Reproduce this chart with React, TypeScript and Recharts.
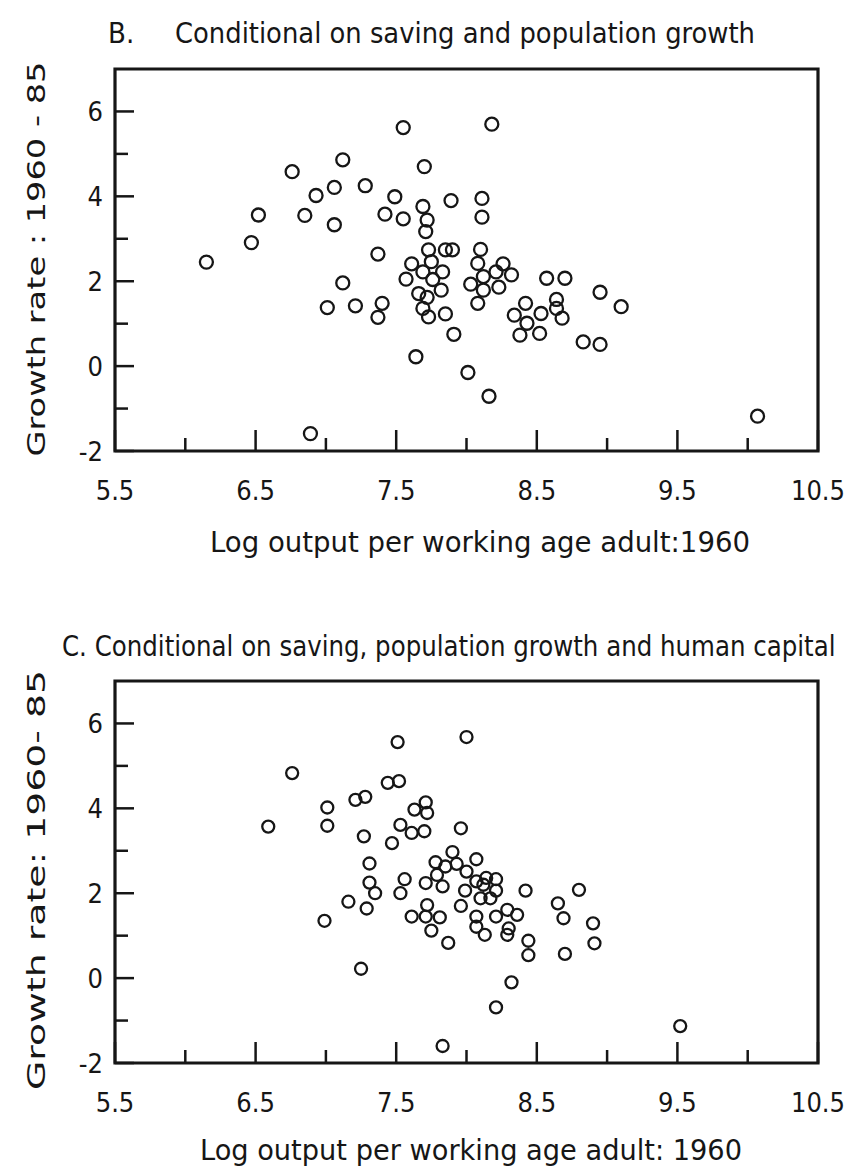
import { ScatterChart, Scatter, XAxis, YAxis, ReferenceArea } from "recharts";

const xTicks = [5.5, 6, 6.5, 7, 7.5, 8, 8.5, 9, 9.5, 10, 10.5];
const xTickLabels = ["5.5", "", "6.5", "", "7.5", "", "8.5", "", "9.5", "", "10.5"];
const yTicks = [-2, -1, 0, 1, 2, 3, 4, 5, 6];
const yTickLabels = ["-2", "", "0", "", "2", "", "4", "", "6"];

// Panel B: conditional on saving and population growth
const panelBLogOutput = [
  6.15, 6.47, 6.52, 6.76, 6.85, 6.93, 7.06, 7.12, 7.06, 7.12, 7.01, 7.21, 6.89, 7.55, 8.18,
  7.70, 7.28, 7.49, 7.42, 7.55, 7.69, 7.72, 7.71, 7.89, 8.11, 8.11, 7.37, 7.73, 7.85, 7.90,
  8.10, 7.61, 7.69, 7.75, 7.83, 7.57, 7.76, 7.82, 7.66, 7.72, 7.69, 7.73, 7.85, 7.91, 7.64,
  7.40, 7.37, 8.03, 8.08, 8.12, 8.12, 8.08, 8.21, 8.26, 8.32, 8.23, 8.01, 8.16, 8.57, 8.70,
  8.42, 8.34, 8.43, 8.38, 8.53, 8.52, 8.64, 8.64, 8.68, 8.83, 8.95, 9.10, 8.95, 10.07,
];
const panelBGrowth = [
  2.45, 2.91, 3.56, 4.58, 3.55, 4.02, 4.21, 4.86, 3.33, 1.96, 1.38, 1.42, -1.59, 5.62, 5.70,
  4.70, 4.25, 3.99, 3.58, 3.47, 3.76, 3.44, 3.17, 3.90, 3.95, 3.51, 2.64, 2.74, 2.74, 2.74,
  2.75, 2.41, 2.22, 2.46, 2.22, 2.05, 2.04, 1.79, 1.71, 1.62, 1.36, 1.16, 1.23, 0.75, 0.22,
  1.48, 1.15, 1.93, 2.42, 2.11, 1.79, 1.48, 2.22, 2.41, 2.15, 1.86, -0.15, -0.71, 2.07, 2.07,
  1.48, 1.20, 1.01, 0.73, 1.24, 0.77, 1.57, 1.36, 1.13, 0.57, 1.74, 1.40, 0.51, -1.18,
];

// Panel C: conditional on saving, population growth and human capital
const panelCLogOutput = [
  6.59, 6.76, 7.01, 7.01, 6.99, 7.16, 7.21, 7.28, 7.51, 8.00, 7.44, 7.52, 7.63, 7.71, 7.72,
  7.53, 7.61, 7.70, 7.27, 7.47, 7.96, 7.31, 7.31, 7.35, 7.29, 7.56, 7.53, 7.61, 7.71, 7.78,
  7.72, 7.71, 7.81, 7.75, 7.83, 7.87, 7.25, 7.90, 7.93, 7.85, 8.00, 7.79, 8.07, 8.07, 7.99,
  7.96, 8.12, 8.14, 8.21, 8.21, 8.10, 8.17, 8.07, 8.07, 8.13, 8.21, 8.29, 8.36, 8.30, 8.29,
  8.42, 8.44, 8.44, 8.32, 8.21, 7.83, 9.52, 8.65, 8.69, 8.70, 8.80, 8.90, 8.91,
];
const panelCGrowth = [
  3.57, 4.83, 4.02, 3.59, 1.35, 1.80, 4.20, 4.27, 5.56, 5.68, 4.60, 4.64, 3.97, 4.14, 3.89,
  3.61, 3.42, 3.46, 3.34, 3.18, 3.53, 2.70, 2.25, 2.00, 1.64, 2.33, 2.00, 1.45, 2.24, 2.73,
  1.72, 1.45, 1.43, 1.12, 2.16, 0.83, 0.22, 2.97, 2.69, 2.63, 2.51, 2.43, 2.80, 2.28, 2.06,
  1.70, 2.20, 2.36, 2.33, 2.06, 1.88, 1.88, 1.45, 1.21, 1.02, 1.45, 1.61, 1.49, 1.17, 1.02,
  2.06, 0.88, 0.54, -0.10, -0.69, -1.60, -1.13, 1.76, 1.41, 0.57, 2.08, 1.29, 0.82,
];

const INK = "#161616";
const tickFont = "'DejaVu Sans Condensed', 'Liberation Sans Narrow', 'Roboto Condensed', Roboto, sans-serif";
const titleFont = "'Liberation Sans Narrow', 'DejaVu Sans Condensed', Roboto, sans-serif";

const XTick = (props: any) => {
  const { x, y, index } = props;
  const label = xTickLabels[index];
  const major = label !== "";
  return (
    <g>
      <line x1={x} x2={x} y1={y} y2={y - (major ? 21 : 13)} stroke={INK} strokeWidth={2.5} />
      {major && (
        <text x={x} y={y + 49} textAnchor="middle" fontSize={27} fontFamily={tickFont} fill={INK}>
          {label}
        </text>
      )}
    </g>
  );
};

const YTick = (props: any) => {
  const { x, y, index } = props;
  const label = yTickLabels[index];
  const major = label !== "";
  return (
    <g>
      <line x1={x} x2={x + (major ? 19 : 13)} y1={y} y2={y} stroke={INK} strokeWidth={2.5} />
      {major && (
        <text x={x - 12} y={y + 10} textAnchor="end" fontSize={27} fontFamily={tickFont} fill={INK}>
          {label}
        </text>
      )}
    </g>
  );
};

const Ring = (r: number) => (props: any) => (
  <circle cx={props.cx} cy={props.cy} r={r} fill="none" stroke={INK} strokeWidth={2.3} />
);

const Panel = ({ xs, ys, top, r }: { xs: number[]; ys: number[]; top: number; r: number }) => {
  const data = xs.map((x, i) => ({ x, y: ys[i] }));
  return (
    <div style={{ position: "absolute", left: 0, top }}>
      <ScatterChart width={847} height={562} margin={{ top: 69, right: 29, bottom: 51, left: 55 }}>
        <XAxis
          type="number"
          dataKey="x"
          domain={[5.5, 10.5]}
          ticks={xTicks}
          interval={0}
          axisLine={false}
          tickLine={false}
          tickSize={0}
          tickMargin={0}
          height={60}
          tick={<XTick />}
          allowDataOverflow
        />
        <YAxis
          type="number"
          dataKey="y"
          domain={[-2, 7]}
          ticks={yTicks}
          interval={0}
          axisLine={false}
          tickLine={false}
          tickSize={0}
          tickMargin={0}
          width={60}
          tick={<YTick />}
          allowDataOverflow
        />
        <ReferenceArea
          x1={5.5}
          x2={10.5}
          y1={-2}
          y2={7}
          fill="none"
          stroke={INK}
          strokeWidth={3.2}
          ifOverflow="visible"
        />
        <Scatter data={data} shape={Ring(r)} isAnimationActive={false} />
      </ScatterChart>
    </div>
  );
};

export default function App() {
  return (
    <div style={{ position: "absolute", left: 0, top: 0, width: 847, height: 1174, background: "#fff", overflow: "hidden" }}>
      <Panel xs={panelBLogOutput} ys={panelBGrowth} top={0} r={6.5} />
      <Panel xs={panelCLogOutput} ys={panelCGrowth} top={612} r={6} />
      <svg
        width={847}
        height={1174}
        style={{ position: "absolute", left: 0, top: 0, pointerEvents: "none" }}
      >
        <g fill={INK} fontFamily={titleFont} fontSize={29} fontWeight={500}>
          <text x={108} y={43}>B.</text>
          <text x={175} y={43} textLength={580} lengthAdjust="spacingAndGlyphs">
            Conditional on saving and population growth
          </text>
          <text x={480} y={552} textAnchor="middle" textLength={540} lengthAdjust="spacingAndGlyphs">
            Log output per working age adult:1960
          </text>
          <g transform="translate(62 656) scale(0.85 1)">
            <text x={0} y={0} textLength={910} lengthAdjust="spacingAndGlyphs">
              C. Conditional on saving, population growth and human capital
            </text>
          </g>
          <text x={471} y={1160} textAnchor="middle" textLength={542} lengthAdjust="spacingAndGlyphs">
            Log output per working age adult: 1960
          </text>
        </g>
        <g fill={INK} fontFamily="'DejaVu Sans', sans-serif" fontSize={25}>
          <text
            transform="translate(45 259) rotate(-90)"
            x={0}
            y={0}
            textAnchor="middle"
            textLength={395}
            lengthAdjust="spacingAndGlyphs"
          >
            Growth rate : 1960 - 85
          </text>
          <text
            transform="translate(45 880) rotate(-90)"
            x={0}
            y={0}
            textAnchor="middle"
            textLength={420}
            lengthAdjust="spacingAndGlyphs"
          >
            Growth rate: 1960- 85
          </text>
        </g>
      </svg>
    </div>
  );
}
